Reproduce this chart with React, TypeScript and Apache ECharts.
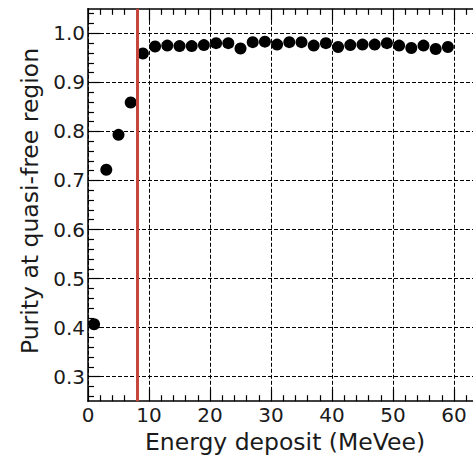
import React, { useEffect, useRef } from "react";
import * as echarts from "echarts";

const energy = [1, 3, 5, 7, 9, 11, 13, 15, 17, 19, 21, 23, 25, 27, 29, 31, 33, 35, 37, 39, 41, 43, 45, 47, 49, 51, 53, 55, 57, 59];
const purity = [0.407, 0.722, 0.793, 0.859, 0.959, 0.973, 0.975, 0.974, 0.974, 0.976, 0.98, 0.98, 0.969, 0.982, 0.983, 0.977, 0.982, 0.982, 0.975, 0.98, 0.972, 0.976, 0.977, 0.977, 0.98, 0.975, 0.97, 0.975, 0.968, 0.972];
const xLabelTicks = [0, 10, 20, 30, 40, 50, 60];
const yMajorTicks = [0.3, 0.4, 0.5, 0.6, 0.7, 0.8, 0.9, 1.0];
const yMinorTicks = [0.26, 0.28, 0.32, 0.34, 0.36, 0.38, 0.42, 0.44, 0.46, 0.48, 0.52, 0.54, 0.56, 0.58, 0.62, 0.64, 0.66, 0.68, 0.72, 0.74, 0.76, 0.78, 0.82, 0.84, 0.86, 0.88, 0.92, 0.94, 0.96, 0.98, 1.02, 1.04];
const cutEnergy = 8;
const xTitle = "Energy deposit (MeVee)";
const yTitle = "Purity at quasi-free region";

const FONT = "DejaVu Sans";
const TXT = "#1a1a1a";

export default function App() {
  const ref = useRef<HTMLDivElement>(null);
  useEffect(() => {
    if (!ref.current) return;
    const chart = echarts.init(ref.current, undefined, { renderer: "svg" });
    const gridLine = { show: true, lineStyle: { color: "#000", width: 1, type: [4, 2] as any } };
    const xBase = {
      type: "value" as const,
      min: 0,
      max: 70,
      interval: 10,
      axisLine: { show: true, lineStyle: { color: "#000", width: 1.5 } },
      axisTick: { show: true, inside: true, length: 12, lineStyle: { color: "#000", width: 1.2 } },
      minorTick: { show: true, splitNumber: 5, length: 6, lineStyle: { color: "#000", width: 1.2 } },
    };
    chart.setOption({
      animation: false,
      grid: { left: 88, top: 8.8, width: 427, height: 392.4, containLabel: false, outerBoundsMode: "none" },
      xAxis: [
        {
          ...xBase,
          position: "bottom",
          axisLabel: { show: true, margin: 4, customValues: xLabelTicks, fontFamily: FONT, fontSize: 20, color: TXT },
          splitLine: gridLine,
        },
        {
          ...xBase,
          position: "top",
          axisLabel: { show: false },
          splitLine: { show: false },
        },
      ],
      yAxis: [
        {
          type: "value",
          min: 0.25,
          max: 1.05,
          position: "left",
          axisLine: { show: true, lineStyle: { color: "#000", width: 1.5 } },
          axisTick: { show: true, inside: true, length: 12, customValues: yMajorTicks, lineStyle: { color: "#000", width: 1.2 } },
          axisLabel: {
            show: true,
            margin: 3,
            customValues: yMajorTicks,
            formatter: (v: number) => v.toFixed(1),
            fontFamily: FONT,
            fontSize: 20,
            color: TXT,
          },
          minorTick: { show: false },
          splitLine: gridLine,
        },
        {
          type: "value",
          min: 0.25,
          max: 1.05,
          position: "left",
          axisLine: { show: false },
          axisTick: { show: true, inside: true, length: 6, customValues: yMinorTicks, lineStyle: { color: "#000", width: 1.2 } },
          axisLabel: { show: false },
          splitLine: { show: false },
        },
      ],
      graphic: [
        {
          type: "text",
          x: 285,
          y: 442,
          style: { text: xTitle, fontFamily: FONT, fontSize: 23.5, fill: TXT, textAlign: "center", textVerticalAlign: "middle" },
        },
        {
          type: "text",
          x: 30,
          y: 201,
          rotation: Math.PI / 2,
          style: { text: yTitle, fontFamily: FONT, fontSize: 23.5, fill: TXT, textAlign: "center", textVerticalAlign: "middle" },
        },
      ],
      series: [
        {
          type: "scatter",
          xAxisIndex: 0,
          yAxisIndex: 0,
          data: energy.map((e, i) => [e, purity[i]]),
          symbol: "circle",
          symbolSize: 12,
          itemStyle: { color: "#000", opacity: 1 },
          z: 3,
          markLine: {
            silent: true,
            symbol: ["none", "none"],
            label: { show: false },
            lineStyle: { type: "solid", color: "#c4463d", width: 3 },
            data: [{ xAxis: cutEnergy }],
          },
        },
      ],
    });
    return () => chart.dispose();
  }, []);
  return <div ref={ref} style={{ position: "absolute", left: 0, top: 0, width: 473, height: 457 }} />;
}
